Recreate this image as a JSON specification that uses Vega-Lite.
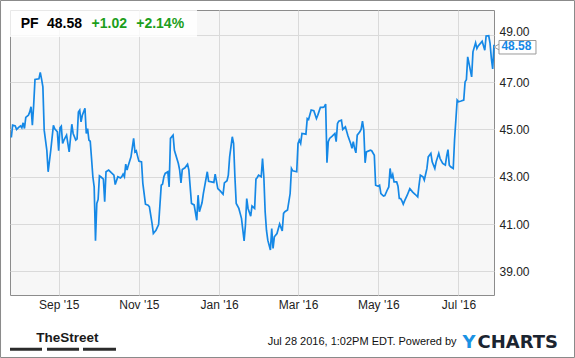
{
  "$schema": "https://vega.github.io/schema/vega-lite/v6.json",
  "width": 484,
  "height": 285,
  "autosize": {"type": "none"},
  "padding": {"left": 10, "top": 10, "right": 81, "bottom": 63},
  "background": "#ffffff",
  "config": {
    "view": {"fill": "#f7f7f7", "stroke": "#8c8c8c", "strokeWidth": 1},
    "font": "Liberation Sans",
    "text": {"font": "Liberation Sans"}
  },
  "datasets": {
    "price": [
      {"date": "2015-07-27", "close": 44.66}, {"date": "2015-07-28", "close": 45.18}, {"date": "2015-07-30", "close": 45.15},
      {"date": "2015-07-31", "close": 45.00}, {"date": "2015-08-02", "close": 45.11}, {"date": "2015-08-03", "close": 45.15},
      {"date": "2015-08-04", "close": 45.07}, {"date": "2015-08-05", "close": 45.28}, {"date": "2015-08-06", "close": 45.04},
      {"date": "2015-08-07", "close": 45.51}, {"date": "2015-08-09", "close": 45.60}, {"date": "2015-08-10", "close": 45.74},
      {"date": "2015-08-11", "close": 45.96}, {"date": "2015-08-12", "close": 45.18}, {"date": "2015-08-13", "close": 46.03},
      {"date": "2015-08-14", "close": 47.11}, {"date": "2015-08-17", "close": 47.14}, {"date": "2015-08-18", "close": 47.41},
      {"date": "2015-08-19", "close": 47.13}, {"date": "2015-08-20", "close": 46.80}, {"date": "2015-08-21", "close": 44.97},
      {"date": "2015-08-23", "close": 44.12}, {"date": "2015-08-24", "close": 43.21}, {"date": "2015-08-26", "close": 44.12},
      {"date": "2015-08-28", "close": 45.17}, {"date": "2015-08-29", "close": 45.03}, {"date": "2015-08-31", "close": 44.90},
      {"date": "2015-09-01", "close": 44.10}, {"date": "2015-09-02", "close": 45.07}, {"date": "2015-09-03", "close": 45.14},
      {"date": "2015-09-04", "close": 44.41}, {"date": "2015-09-05", "close": 44.55}, {"date": "2015-09-07", "close": 44.76},
      {"date": "2015-09-09", "close": 44.05}, {"date": "2015-09-11", "close": 45.22}, {"date": "2015-09-12", "close": 44.83},
      {"date": "2015-09-14", "close": 44.55}, {"date": "2015-09-15", "close": 44.60}, {"date": "2015-09-16", "close": 45.74},
      {"date": "2015-09-17", "close": 45.82}, {"date": "2015-09-18", "close": 45.32}, {"date": "2015-09-19", "close": 45.60},
      {"date": "2015-09-21", "close": 45.89}, {"date": "2015-09-22", "close": 44.83}, {"date": "2015-09-23", "close": 45.04},
      {"date": "2015-09-24", "close": 44.55}, {"date": "2015-09-25", "close": 44.50}, {"date": "2015-09-26", "close": 43.77},
      {"date": "2015-09-27", "close": 43.00}, {"date": "2015-09-28", "close": 42.57}, {"date": "2015-09-29", "close": 40.29},
      {"date": "2015-09-30", "close": 41.87}, {"date": "2015-10-01", "close": 42.04}, {"date": "2015-10-02", "close": 43.04},
      {"date": "2015-10-03", "close": 43.00}, {"date": "2015-10-05", "close": 42.90}, {"date": "2015-10-06", "close": 41.94},
      {"date": "2015-10-07", "close": 43.21}, {"date": "2015-10-09", "close": 43.28}, {"date": "2015-10-11", "close": 43.17},
      {"date": "2015-10-13", "close": 43.07}, {"date": "2015-10-14", "close": 42.67}, {"date": "2015-10-16", "close": 43.00},
      {"date": "2015-10-18", "close": 42.95}, {"date": "2015-10-19", "close": 43.00}, {"date": "2015-10-20", "close": 43.11},
      {"date": "2015-10-21", "close": 43.00}, {"date": "2015-10-22", "close": 43.53}, {"date": "2015-10-23", "close": 43.28},
      {"date": "2015-10-24", "close": 43.49}, {"date": "2015-10-26", "close": 43.84}, {"date": "2015-10-28", "close": 44.62},
      {"date": "2015-10-29", "close": 44.05}, {"date": "2015-10-30", "close": 44.10}, {"date": "2015-10-31", "close": 43.87},
      {"date": "2015-11-01", "close": 43.66}, {"date": "2015-11-03", "close": 43.63}, {"date": "2015-11-04", "close": 42.72},
      {"date": "2015-11-06", "close": 41.84}, {"date": "2015-11-08", "close": 41.80}, {"date": "2015-11-09", "close": 41.73},
      {"date": "2015-11-11", "close": 41.03}, {"date": "2015-11-12", "close": 40.60}, {"date": "2015-11-14", "close": 40.74},
      {"date": "2015-11-16", "close": 40.98}, {"date": "2015-11-18", "close": 42.64}, {"date": "2015-11-19", "close": 42.69},
      {"date": "2015-11-20", "close": 43.00}, {"date": "2015-11-21", "close": 43.14}, {"date": "2015-11-23", "close": 43.21},
      {"date": "2015-11-24", "close": 42.57}, {"date": "2015-11-25", "close": 44.62}, {"date": "2015-11-27", "close": 44.76},
      {"date": "2015-11-28", "close": 44.12}, {"date": "2015-12-01", "close": 43.56}, {"date": "2015-12-02", "close": 43.28},
      {"date": "2015-12-03", "close": 42.74}, {"date": "2015-12-04", "close": 43.31}, {"date": "2015-12-06", "close": 43.38},
      {"date": "2015-12-08", "close": 43.53}, {"date": "2015-12-09", "close": 43.28}, {"date": "2015-12-11", "close": 41.87},
      {"date": "2015-12-13", "close": 41.81}, {"date": "2015-12-15", "close": 41.16}, {"date": "2015-12-16", "close": 42.22},
      {"date": "2015-12-17", "close": 41.52}, {"date": "2015-12-19", "close": 41.90}, {"date": "2015-12-20", "close": 42.29},
      {"date": "2015-12-23", "close": 43.21}, {"date": "2015-12-24", "close": 42.81}, {"date": "2015-12-28", "close": 42.76},
      {"date": "2015-12-29", "close": 43.11}, {"date": "2015-12-31", "close": 42.50}, {"date": "2016-01-02", "close": 42.39},
      {"date": "2016-01-04", "close": 42.26}, {"date": "2016-01-05", "close": 42.74}, {"date": "2016-01-07", "close": 42.83},
      {"date": "2016-01-08", "close": 43.07}, {"date": "2016-01-09", "close": 43.84}, {"date": "2016-01-11", "close": 44.69},
      {"date": "2016-01-12", "close": 44.41}, {"date": "2016-01-13", "close": 43.00}, {"date": "2016-01-14", "close": 41.87},
      {"date": "2016-01-16", "close": 41.66}, {"date": "2016-01-17", "close": 41.45}, {"date": "2016-01-18", "close": 41.24},
      {"date": "2016-01-20", "close": 40.29}, {"date": "2016-01-21", "close": 40.95}, {"date": "2016-01-22", "close": 42.08},
      {"date": "2016-01-23", "close": 41.66}, {"date": "2016-01-25", "close": 41.33}, {"date": "2016-01-26", "close": 41.76},
      {"date": "2016-01-28", "close": 41.66}, {"date": "2016-01-29", "close": 42.90}, {"date": "2016-01-30", "close": 42.97},
      {"date": "2016-01-31", "close": 43.07}, {"date": "2016-02-02", "close": 43.00}, {"date": "2016-02-03", "close": 43.77},
      {"date": "2016-02-04", "close": 43.00}, {"date": "2016-02-05", "close": 41.52}, {"date": "2016-02-06", "close": 40.74},
      {"date": "2016-02-07", "close": 40.32}, {"date": "2016-02-09", "close": 39.90}, {"date": "2016-02-10", "close": 40.81},
      {"date": "2016-02-11", "close": 39.97}, {"date": "2016-02-12", "close": 40.46}, {"date": "2016-02-14", "close": 40.60},
      {"date": "2016-02-16", "close": 41.00}, {"date": "2016-02-18", "close": 40.71}, {"date": "2016-02-19", "close": 41.45},
      {"date": "2016-02-20", "close": 41.52}, {"date": "2016-02-22", "close": 41.59}, {"date": "2016-02-24", "close": 42.29},
      {"date": "2016-02-25", "close": 43.35}, {"date": "2016-02-26", "close": 43.25}, {"date": "2016-02-29", "close": 43.21},
      {"date": "2016-03-01", "close": 44.41}, {"date": "2016-03-02", "close": 44.55}, {"date": "2016-03-03", "close": 44.41},
      {"date": "2016-03-04", "close": 44.83}, {"date": "2016-03-07", "close": 44.80}, {"date": "2016-03-08", "close": 45.46},
      {"date": "2016-03-09", "close": 45.42}, {"date": "2016-03-11", "close": 45.82}, {"date": "2016-03-13", "close": 45.79},
      {"date": "2016-03-15", "close": 45.46}, {"date": "2016-03-16", "close": 45.60}, {"date": "2016-03-18", "close": 45.93},
      {"date": "2016-03-20", "close": 45.93}, {"date": "2016-03-21", "close": 45.96}, {"date": "2016-03-22", "close": 46.07},
      {"date": "2016-03-23", "close": 43.59}, {"date": "2016-03-24", "close": 44.48}, {"date": "2016-03-25", "close": 44.62},
      {"date": "2016-03-27", "close": 44.72}, {"date": "2016-03-29", "close": 44.83}, {"date": "2016-03-30", "close": 44.48},
      {"date": "2016-03-31", "close": 45.25}, {"date": "2016-04-01", "close": 45.35}, {"date": "2016-04-03", "close": 45.39},
      {"date": "2016-04-04", "close": 45.00}, {"date": "2016-04-06", "close": 45.11}, {"date": "2016-04-08", "close": 44.72},
      {"date": "2016-04-10", "close": 44.41}, {"date": "2016-04-11", "close": 44.20}, {"date": "2016-04-12", "close": 44.48},
      {"date": "2016-04-13", "close": 44.20}, {"date": "2016-04-14", "close": 44.01}, {"date": "2016-04-15", "close": 44.76},
      {"date": "2016-04-17", "close": 44.90}, {"date": "2016-04-18", "close": 45.01}, {"date": "2016-04-19", "close": 45.35},
      {"date": "2016-04-20", "close": 44.97}, {"date": "2016-04-21", "close": 43.59}, {"date": "2016-04-22", "close": 44.05},
      {"date": "2016-04-25", "close": 44.12}, {"date": "2016-04-26", "close": 44.10}, {"date": "2016-04-28", "close": 43.91},
      {"date": "2016-04-29", "close": 42.64}, {"date": "2016-05-01", "close": 42.60}, {"date": "2016-05-02", "close": 42.64},
      {"date": "2016-05-03", "close": 42.29}, {"date": "2016-05-05", "close": 42.18}, {"date": "2016-05-06", "close": 42.20},
      {"date": "2016-05-08", "close": 42.46}, {"date": "2016-05-09", "close": 42.57}, {"date": "2016-05-10", "close": 43.35},
      {"date": "2016-05-11", "close": 42.93}, {"date": "2016-05-12", "close": 43.09}, {"date": "2016-05-13", "close": 42.78},
      {"date": "2016-05-15", "close": 42.78}, {"date": "2016-05-16", "close": 42.60}, {"date": "2016-05-17", "close": 42.08},
      {"date": "2016-05-18", "close": 42.08}, {"date": "2016-05-19", "close": 41.98}, {"date": "2016-05-20", "close": 41.84},
      {"date": "2016-05-21", "close": 41.98}, {"date": "2016-05-23", "close": 42.22}, {"date": "2016-05-25", "close": 42.50},
      {"date": "2016-05-27", "close": 42.36}, {"date": "2016-05-29", "close": 42.26}, {"date": "2016-05-31", "close": 42.15},
      {"date": "2016-06-01", "close": 42.64}, {"date": "2016-06-02", "close": 43.07}, {"date": "2016-06-04", "close": 43.00},
      {"date": "2016-06-05", "close": 42.86}, {"date": "2016-06-07", "close": 43.35}, {"date": "2016-06-08", "close": 43.84},
      {"date": "2016-06-10", "close": 43.99}, {"date": "2016-06-11", "close": 43.63}, {"date": "2016-06-13", "close": 43.35},
      {"date": "2016-06-14", "close": 43.63}, {"date": "2016-06-16", "close": 43.99}, {"date": "2016-06-17", "close": 43.77},
      {"date": "2016-06-19", "close": 43.56}, {"date": "2016-06-21", "close": 43.49}, {"date": "2016-06-22", "close": 43.87},
      {"date": "2016-06-23", "close": 44.15}, {"date": "2016-06-24", "close": 43.49}, {"date": "2016-06-25", "close": 43.42},
      {"date": "2016-06-27", "close": 43.35}, {"date": "2016-06-28", "close": 44.55}, {"date": "2016-06-30", "close": 46.24},
      {"date": "2016-07-01", "close": 46.17}, {"date": "2016-07-03", "close": 46.20}, {"date": "2016-07-05", "close": 46.24},
      {"date": "2016-07-06", "close": 47.01}, {"date": "2016-07-07", "close": 47.10}, {"date": "2016-07-08", "close": 48.07},
      {"date": "2016-07-09", "close": 47.79}, {"date": "2016-07-11", "close": 47.22}, {"date": "2016-07-12", "close": 48.28},
      {"date": "2016-07-14", "close": 48.66}, {"date": "2016-07-15", "close": 48.42}, {"date": "2016-07-16", "close": 48.53},
      {"date": "2016-07-18", "close": 48.66}, {"date": "2016-07-19", "close": 48.73}, {"date": "2016-07-21", "close": 48.35},
      {"date": "2016-07-22", "close": 48.95}, {"date": "2016-07-24", "close": 48.96}, {"date": "2016-07-25", "close": 48.64},
      {"date": "2016-07-26", "close": 48.00}, {"date": "2016-07-27", "close": 47.56}, {"date": "2016-07-28", "close": 48.58}
    ]
  },
  "layer": [
    {
      "data": {"values": [{}]},
      "mark": {"type": "rect", "fill": null, "fillOpacity": 0, "stroke": "#8a8a8a", "strokeWidth": 1, "clip": false},
      "encoding": {
        "x": {"datum": {"year": 2015, "month": 7, "date": 18, "hours": 19, "utc": true}, "type": "temporal", "scale": {"type": "utc", "domain": [{"year": 2015, "month": 7, "date": 26, "utc": true}, {"year": 2016, "month": 7, "date": 28, "utc": true}]}},
        "x2": {"datum": {"year": 2016, "month": 9, "date": 27, "hours": 5, "utc": true}},
        "y": {"datum": 50.452, "type": "quantitative", "scale": {"domain": [38, 50.05], "nice": false, "zero": false}},
        "y2": {"datum": 35.357}
      }
    },
    {
      "data": {"values": [{}]},
      "mark": {"type": "rect", "fill": "#ffffff", "fillOpacity": 0.8, "clip": false},
      "encoding": {
        "x": {"datum": {"year": 2015, "month": 7, "date": 26, "utc": true}, "type": "temporal", "scale": {"type": "utc", "domain": [{"year": 2015, "month": 7, "date": 26, "utc": true}, {"year": 2016, "month": 7, "date": 28, "utc": true}]}},
        "x2": {"datum": {"year": 2015, "month": 12, "date": 15, "hours": 5, "utc": true}},
        "y": {"datum": 50.05, "type": "quantitative", "scale": {"domain": [38, 50.05], "nice": false, "zero": false}},
        "y2": {"datum": 48.91}
      }
    },
    {
      "data": {"name": "price"},
      "mark": {"type": "line", "color": "#1588e6", "strokeWidth": 1.7, "interpolate": "linear"},
      "encoding": {
        "x": {
          "field": "date", "type": "temporal",
          "scale": {"type": "utc", "domain": [{"year": 2015, "month": 7, "date": 26, "utc": true}, {"year": 2016, "month": 7, "date": 28, "utc": true}]},
          "axis": {
            "title": null, "orient": "bottom", "domain": false, "ticks": false,
            "values": [
              {"year": 2015, "month": 9, "date": 1, "utc": true},
              {"year": 2015, "month": 11, "date": 1, "utc": true},
              {"year": 2016, "month": 1, "date": 1, "utc": true},
              {"year": 2016, "month": 3, "date": 1, "utc": true},
              {"year": 2016, "month": 5, "date": 1, "utc": true},
              {"year": 2016, "month": 7, "date": 1, "utc": true}
            ],
            "labelExpr": "utcFormat(datum.value, \"%b '%y\")",
            "labelFont": "Liberation Sans", "labelFontSize": 12, "labelColor": "#222222",
            "labelPadding": 4, "labelFlush": false, "labelOverlap": false,
            "grid": true, "gridColor": "#dadada", "gridWidth": 1
          }
        },
        "y": {
          "field": "close", "type": "quantitative",
          "scale": {"domain": [38, 50.05], "nice": false, "zero": false},
          "axis": {
            "title": null, "orient": "right", "domain": false, "ticks": false,
            "values": [39, 41, 43, 45, 47, 49], "format": ".2f",
            "labelFont": "Liberation Sans", "labelFontSize": 12, "labelColor": "#222222",
            "labelPadding": 5, "labelOverlap": false,
            "labelOffset": {"condition": {"test": "datum.value == 49", "value": -3}, "value": 0},
            "grid": true, "gridColor": "#dadada", "gridWidth": 1
          }
        }
      }
    },
    {
      "data": {"values": [{}]},
      "mark": {"type": "text", "text": "PF", "font": "Liberation Sans", "fontSize": 14, "fontWeight": "bold", "color": "#000000", "align": "left", "baseline": "alphabetic", "clip": false},
      "encoding": {
        "x": {"datum": {"year": 2015, "month": 8, "date": 3, "hours": 3, "utc": true}, "type": "temporal", "scale": {"type": "utc", "domain": [{"year": 2015, "month": 7, "date": 26, "utc": true}, {"year": 2016, "month": 7, "date": 28, "utc": true}]}},
        "y": {"datum": 49.276, "type": "quantitative", "scale": {"domain": [38, 50.05], "nice": false, "zero": false}}
      }
    },
    {
      "data": {"values": [{}]},
      "mark": {"type": "text", "text": "48.58", "font": "Liberation Sans", "fontSize": 14, "fontWeight": "bold", "color": "#000000", "align": "left", "baseline": "alphabetic", "clip": false},
      "encoding": {
        "x": {"datum": {"year": 2015, "month": 8, "date": 23, "hours": 3, "utc": true}, "type": "temporal", "scale": {"type": "utc", "domain": [{"year": 2015, "month": 7, "date": 26, "utc": true}, {"year": 2016, "month": 7, "date": 28, "utc": true}]}},
        "y": {"datum": 49.276, "type": "quantitative", "scale": {"domain": [38, 50.05], "nice": false, "zero": false}}
      }
    },
    {
      "data": {"values": [{}]},
      "mark": {"type": "text", "text": "+1.02", "font": "Liberation Sans", "fontSize": 14, "fontWeight": "bold", "color": "#1c9e1c", "align": "left", "baseline": "alphabetic", "clip": false},
      "encoding": {
        "x": {"datum": {"year": 2015, "month": 9, "date": 26, "hours": 0, "utc": true}, "type": "temporal", "scale": {"type": "utc", "domain": [{"year": 2015, "month": 7, "date": 26, "utc": true}, {"year": 2016, "month": 7, "date": 28, "utc": true}]}},
        "y": {"datum": 49.276, "type": "quantitative", "scale": {"domain": [38, 50.05], "nice": false, "zero": false}}
      }
    },
    {
      "data": {"values": [{}]},
      "mark": {"type": "text", "text": "+2.14%", "font": "Liberation Sans", "fontSize": 14, "fontWeight": "bold", "color": "#1c9e1c", "align": "left", "baseline": "alphabetic", "clip": false},
      "encoding": {
        "x": {"datum": {"year": 2015, "month": 10, "date": 29, "hours": 23, "utc": true}, "type": "temporal", "scale": {"type": "utc", "domain": [{"year": 2015, "month": 7, "date": 26, "utc": true}, {"year": 2016, "month": 7, "date": 28, "utc": true}]}},
        "y": {"datum": 49.276, "type": "quantitative", "scale": {"domain": [38, 50.05], "nice": false, "zero": false}}
      }
    },
    {
      "data": {"values": [{}]},
      "mark": {"type": "point", "shape": "triangle-left", "size": 45, "filled": true, "fill": "#ffffff", "stroke": "#9a9a9a", "strokeWidth": 1, "opacity": 1, "clip": false},
      "encoding": {
        "x": {"datum": {"year": 2016, "month": 7, "date": 30, "hours": 6, "utc": true}, "type": "temporal", "scale": {"type": "utc", "domain": [{"year": 2015, "month": 7, "date": 26, "utc": true}, {"year": 2016, "month": 7, "date": 28, "utc": true}]}},
        "y": {"datum": 48.486, "type": "quantitative", "scale": {"domain": [38, 50.05], "nice": false, "zero": false}}
      }
    },
    {
      "data": {"values": [{}]},
      "mark": {"type": "rect", "fill": "#ffffff", "stroke": "#9a9a9a", "strokeWidth": 1, "clip": false},
      "encoding": {
        "x": {"datum": {"year": 2016, "month": 7, "date": 31, "hours": 19, "utc": true}, "type": "temporal", "scale": {"type": "utc", "domain": [{"year": 2015, "month": 7, "date": 26, "utc": true}, {"year": 2016, "month": 7, "date": 28, "utc": true}]}},
        "x2": {"datum": {"year": 2016, "month": 8, "date": 28, "hours": 22, "utc": true}},
        "y": {"datum": 48.76, "type": "quantitative", "scale": {"domain": [38, 50.05], "nice": false, "zero": false}},
        "y2": {"datum": 48.19}
      }
    },
    {
      "data": {"values": [{}]},
      "mark": {"type": "text", "text": "48.58", "font": "Liberation Sans", "fontSize": 12, "fontWeight": "bold", "color": "#1588e6", "align": "left", "baseline": "alphabetic", "clip": false},
      "encoding": {
        "x": {"datum": {"year": 2016, "month": 8, "date": 2, "hours": 15, "utc": true}, "type": "temporal", "scale": {"type": "utc", "domain": [{"year": 2015, "month": 7, "date": 26, "utc": true}, {"year": 2016, "month": 7, "date": 28, "utc": true}]}},
        "y": {"datum": 48.34, "type": "quantitative", "scale": {"domain": [38, 50.05], "nice": false, "zero": false}}
      }
    },
    {
      "data": {"values": [{}]},
      "mark": {"type": "text", "text": "TheStreet", "font": "Liberation Sans", "fontSize": 13.5, "fontWeight": "bold", "color": "#1a1a1a", "align": "left", "baseline": "alphabetic", "clip": false},
      "encoding": {
        "x": {"datum": {"year": 2015, "month": 8, "date": 15, "hours": 0, "utc": true}, "type": "temporal", "scale": {"type": "utc", "domain": [{"year": 2015, "month": 7, "date": 26, "utc": true}, {"year": 2016, "month": 7, "date": 28, "utc": true}]}},
        "y": {"datum": 36.025, "type": "quantitative", "scale": {"domain": [38, 50.05], "nice": false, "zero": false}}
      }
    },
    {
      "data": {"values": [{}]},
      "mark": {"type": "rule", "color": "#2b2b2b", "strokeWidth": 3, "strokeCap": "butt", "clip": false},
      "encoding": {
        "x": {"datum": {"year": 2015, "month": 7, "date": 26, "utc": true}, "type": "temporal", "scale": {"type": "utc", "domain": [{"year": 2015, "month": 7, "date": 26, "utc": true}, {"year": 2016, "month": 7, "date": 28, "utc": true}]}},
        "x2": {"datum": {"year": 2015, "month": 8, "date": 19, "hours": 8, "utc": true}},
        "y": {"datum": 35.71, "type": "quantitative", "scale": {"domain": [38, 50.05], "nice": false, "zero": false}}
      }
    },
    {
      "data": {"values": [{}]},
      "mark": {"type": "rule", "color": "#2b2b2b", "strokeWidth": 3, "strokeCap": "butt", "clip": false},
      "encoding": {
        "x": {"datum": {"year": 2015, "month": 8, "date": 23, "hours": 3, "utc": true}, "type": "temporal", "scale": {"type": "utc", "domain": [{"year": 2015, "month": 7, "date": 26, "utc": true}, {"year": 2016, "month": 7, "date": 28, "utc": true}]}},
        "x2": {"datum": {"year": 2015, "month": 9, "date": 16, "hours": 12, "utc": true}},
        "y": {"datum": 35.71, "type": "quantitative", "scale": {"domain": [38, 50.05], "nice": false, "zero": false}}
      }
    },
    {
      "data": {"values": [{}]},
      "mark": {"type": "rule", "color": "#2b2b2b", "strokeWidth": 3, "strokeCap": "butt", "clip": false},
      "encoding": {
        "x": {"datum": {"year": 2015, "month": 9, "date": 19, "hours": 12, "utc": true}, "type": "temporal", "scale": {"type": "utc", "domain": [{"year": 2015, "month": 7, "date": 26, "utc": true}, {"year": 2016, "month": 7, "date": 28, "utc": true}]}},
        "x2": {"datum": {"year": 2015, "month": 10, "date": 14, "hours": 14, "utc": true}},
        "y": {"datum": 35.71, "type": "quantitative", "scale": {"domain": [38, 50.05], "nice": false, "zero": false}}
      }
    },
    {
      "data": {"values": [{}]},
      "mark": {"type": "text", "text": "Jul 28 2016, 1:02PM EDT.  Powered by", "font": "Liberation Sans", "fontSize": 11, "color": "#111111", "align": "right", "baseline": "alphabetic", "clip": false},
      "encoding": {
        "x": {"datum": {"year": 2016, "month": 6, "date": 29, "hours": 14, "utc": true}, "type": "temporal", "scale": {"type": "utc", "domain": [{"year": 2015, "month": 7, "date": 26, "utc": true}, {"year": 2016, "month": 7, "date": 28, "utc": true}]}},
        "y": {"datum": 35.885, "type": "quantitative", "scale": {"domain": [38, 50.05], "nice": false, "zero": false}}
      }
    },
    {
      "data": {"values": [{}]},
      "mark": {"type": "text", "text": "Y", "font": "DejaVu Sans", "fontSize": 18, "fontWeight": "bold", "color": "#1a92e3", "align": "left", "baseline": "alphabetic", "clip": false},
      "encoding": {
        "x": {"datum": {"year": 2016, "month": 7, "date": 4, "hours": 0, "utc": true}, "type": "temporal", "scale": {"type": "utc", "domain": [{"year": 2015, "month": 7, "date": 26, "utc": true}, {"year": 2016, "month": 7, "date": 28, "utc": true}]}},
        "y": {"datum": 35.75, "type": "quantitative", "scale": {"domain": [38, 50.05], "nice": false, "zero": false}}
      }
    },
    {
      "data": {"values": [{}]},
      "mark": {"type": "text", "text": "CHARTS", "font": "DejaVu Sans", "fontSize": 18, "fontWeight": "bold", "color": "#1b2430", "align": "left", "baseline": "alphabetic", "clip": false},
      "encoding": {
        "x": {"datum": {"year": 2016, "month": 7, "date": 15, "hours": 12, "utc": true}, "type": "temporal", "scale": {"type": "utc", "domain": [{"year": 2015, "month": 7, "date": 26, "utc": true}, {"year": 2016, "month": 7, "date": 28, "utc": true}]}},
        "y": {"datum": 35.75, "type": "quantitative", "scale": {"domain": [38, 50.05], "nice": false, "zero": false}}
      }
    }
  ]
}
